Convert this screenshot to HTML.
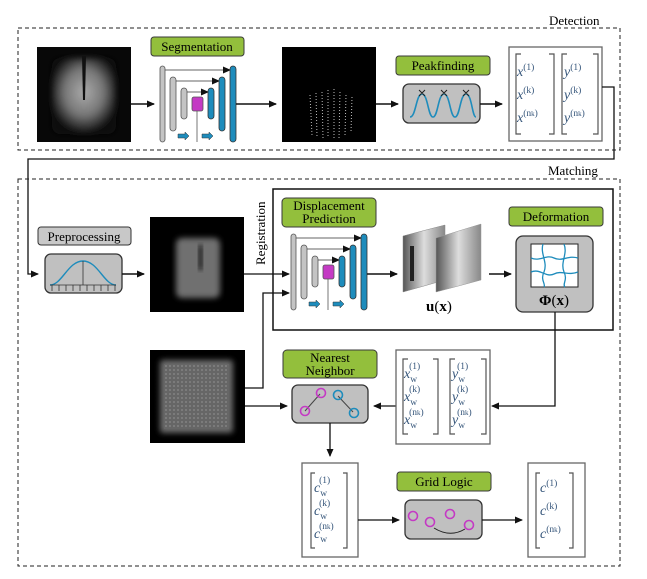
<!DOCTYPE html>
<html><head><meta charset="utf-8"><style>
html,body{margin:0;padding:0;background:#fff;}
svg{display:block;}
text,tspan{font-family:"Liberation Serif","DejaVu Serif",serif;}
.lab{fill:#93bf3c;stroke:#3a3a3a;stroke-width:1}
.gbox{fill:#c0c0c0;stroke:#333;stroke-width:1.3}
.m{font-style:italic;fill:#35557a;font-size:14px}
.s{font-size:9.5px;font-style:normal}
</style></head><body>
<svg width="647" height="579" viewBox="0 0 647 579" xmlns="http://www.w3.org/2000/svg">
<defs>
<marker id="a" markerWidth="8" markerHeight="8" refX="7" refY="4" orient="auto" markerUnits="userSpaceOnUse"><path d="M0,0.5 L8,4 L0,7.5 Z" fill="#111"/></marker>
<radialGradient id="g1" cx="50%" cy="45%" r="55%"><stop offset="0" stop-color="#aaa"/><stop offset="0.55" stop-color="#777"/><stop offset="1" stop-color="#0a0a0a"/></radialGradient>
<radialGradient id="g3" cx="50%" cy="50%" r="50%"><stop offset="0" stop-color="#888"/><stop offset="0.7" stop-color="#666"/><stop offset="1" stop-color="#000"/></radialGradient>
<linearGradient id="pl" x1="0" x2="1"><stop offset="0" stop-color="#555"/><stop offset="0.5" stop-color="#ddd"/><stop offset="1" stop-color="#888"/></linearGradient>
<pattern id="dots" width="4" height="4" patternUnits="userSpaceOnUse"><rect width="4" height="4" fill="#666"/><circle cx="2" cy="2" r="0.9" fill="#8a8a8a"/></pattern>
<filter id="bl"><feGaussianBlur stdDeviation="3"/></filter>
<g id="unet">
 <line x1="3" y1="4" x2="70" y2="4" stroke="#333" stroke-width="0.8" marker-end="url(#a)"/>
 <line x1="13" y1="15" x2="59" y2="15" stroke="#333" stroke-width="0.8" marker-end="url(#a)"/>
 <line x1="24" y1="26" x2="48" y2="26" stroke="#333" stroke-width="0.8" marker-end="url(#a)"/>
 <rect x="0" y="0" width="5" height="76" rx="2.5" fill="#c4c4c4" stroke="#555" stroke-width="0.8"/>
 <rect x="10" y="11" width="6" height="54" rx="3" fill="#c4c4c4" stroke="#555" stroke-width="0.8"/>
 <rect x="21" y="22" width="6" height="31" rx="3" fill="#c4c4c4" stroke="#555" stroke-width="0.8"/>
 <rect x="32" y="31" width="11" height="14" rx="2" fill="#c43ac4" stroke="#555" stroke-width="0.8"/>
 <line x1="37" y1="45" x2="37" y2="76" stroke="#555" stroke-width="0.8"/>
 <rect x="48" y="22" width="6" height="31" rx="3" fill="#1e8cbc" stroke="#333" stroke-width="0.8"/>
 <rect x="59" y="11" width="6" height="54" rx="3" fill="#1e8cbc" stroke="#333" stroke-width="0.8"/>
 <rect x="70" y="0" width="6" height="76" rx="3" fill="#1e8cbc" stroke="#333" stroke-width="0.8"/>
 <path d="M18,68 h7 v-2 l4,4 l-4,4 v-2 h-7z" fill="#1e8cbc" stroke="#333" stroke-width="0.5"/>
 <path d="M42,68 h7 v-2 l4,4 l-4,4 v-2 h-7z" fill="#1e8cbc" stroke="#333" stroke-width="0.5"/>
</g>
</defs>

<!-- Detection -->
<text x="549" y="25" font-size="13">Detection</text>
<rect x="18" y="28" width="602" height="122" fill="none" stroke="#222" stroke-dasharray="4,3"/>
<rect x="37" y="47" width="94" height="95" fill="#080808"/>
<rect x="52" y="58" width="64" height="76" rx="8" fill="url(#g1)" filter="url(#bl)"/>
<path d="M82,56 L86,56 L85,100 L83,100 Z" fill="#111"/>
<line x1="131" y1="104" x2="154" y2="104" stroke="#111" stroke-width="1.5" marker-end="url(#a)"/>
<rect x="151" y="37" width="93" height="19" rx="3" class="lab"/>
<text x="197" y="51" font-size="13" text-anchor="middle">Segmentation</text>
<use href="#unet" x="160" y="66"/>
<line x1="236" y1="104" x2="276" y2="104" stroke="#111" stroke-width="1.5" marker-end="url(#a)"/>
<rect x="282" y="47" width="94" height="95" fill="#000"/>
<g stroke="#bbb" stroke-width="1" stroke-dasharray="1,2" fill="none">
<path d="M310,95 L312,135 M316,93 L317,137 M322,92 L323,138 M328,90 L328,138 M334,89 L334,138 M340,92 L339,138 M346,95 L345,135 M352,97 L351,132"/>
</g>
<line x1="376" y1="104" x2="398" y2="104" stroke="#111" stroke-width="1.5" marker-end="url(#a)"/>
<rect x="396" y="56" width="94" height="19" rx="3" class="lab"/>
<text x="443" y="70" font-size="13" text-anchor="middle">Peakfinding</text>
<rect x="403" y="84" width="77" height="39" rx="6" class="gbox"/>
<path d="M410,117 C416,117 416,94 422,94 C428,94 428,117 433,117 C438,117 438,94 444,94 C450,94 450,117 455,117 C460,117 460,94 466,94 C472,94 472,117 476,117" fill="none" stroke="#1e8cbc" stroke-width="1.6"/>
<g stroke="#222" stroke-width="1"><path d="M419,90 l6,6 M425,90 l-6,6 M441,90 l6,6 M447,90 l-6,6 M463,90 l6,6 M469,90 l-6,6"/></g>
<line x1="480" y1="104" x2="502" y2="104" stroke="#111" stroke-width="1.5" marker-end="url(#a)"/>
<rect x="509" y="47" width="93" height="94" fill="#fff" stroke="#666" stroke-width="1.3"/>
<path d="M521,54 h-5 v80 h5 M549,54 h5 v80 h-5 M567,54 h-5 v80 h5 M593,54 h5 v80 h-5" fill="none" stroke="#555" stroke-width="1.2"/>
<text x="517" y="76" class="m">x<tspan class="s" dy="-6">(1)</tspan></text>
<text x="517" y="99" class="m">x<tspan class="s" dy="-6">(k)</tspan></text>
<text x="517" y="122" class="m">x<tspan class="s" dy="-6">(n<tspan font-size="7">k</tspan>)</tspan></text>
<text x="564" y="76" class="m">y<tspan class="s" dy="-6">(1)</tspan></text>
<text x="564" y="99" class="m">y<tspan class="s" dy="-6">(k)</tspan></text>
<text x="564" y="122" class="m">y<tspan class="s" dy="-6">(n<tspan font-size="7">k</tspan>)</tspan></text>
<polyline points="602,87 614,87 614,159 28,159 28,274 38,274" fill="none" stroke="#111" stroke-width="1.3" marker-end="url(#a)"/>

<!-- Matching -->
<text x="548" y="175" font-size="13">Matching</text>
<rect x="18" y="179" width="602" height="387" fill="none" stroke="#222" stroke-dasharray="4,3"/>
<rect x="38" y="227" width="93" height="18" rx="3" fill="#c8c8c8" stroke="#333"/>
<text x="84" y="241" font-size="13" text-anchor="middle">Preprocessing</text>
<rect x="45" y="254" width="77" height="39" rx="6" class="gbox"/>
<path d="M50,285 C62,285 68,261 83,261 C98,261 104,285 116,285" fill="none" stroke="#1e8cbc" stroke-width="1.4"/>
<g stroke="#333" stroke-width="0.8"><line x1="83" y1="261" x2="83" y2="285"/><line x1="50" y1="285" x2="116" y2="285"/>
<path d="M52,285v6M59,285v6M66,285v6M73,285v6M80,285v6M87,285v6M94,285v6M101,285v6M108,285v6M115,285v6"/></g>
<line x1="122" y1="274" x2="144" y2="274" stroke="#111" stroke-width="1.5" marker-end="url(#a)"/>
<rect x="150" y="217" width="94" height="95" fill="#000"/>
<rect x="176" y="238" width="44" height="60" rx="6" fill="#707070" filter="url(#bl)"/>
<rect x="198" y="245" width="5" height="25" fill="#222" filter="url(#bl)"/>

<rect x="273" y="189" width="340" height="141" fill="none" stroke="#111" stroke-width="1.5"/>
<text transform="translate(265,265) rotate(-90)" font-size="13">Registration</text>
<line x1="244" y1="274" x2="289" y2="274" stroke="#111" stroke-width="1.3" marker-end="url(#a)"/>
<polyline points="245,388 263,388 263,293 289,293" fill="none" stroke="#111" stroke-width="1.3" marker-end="url(#a)"/>
<rect x="282" y="198" width="94" height="29" rx="4" class="lab"/>
<text x="329" y="210" font-size="13" text-anchor="middle">Displacement</text>
<text x="329" y="223" font-size="13" text-anchor="middle">Prediction</text>
<use href="#unet" x="291" y="234"/>
<line x1="367" y1="274" x2="397" y2="274" stroke="#111" stroke-width="1.5" marker-end="url(#a)"/>
<polygon points="403,236 445,225 445,280 403,292" fill="url(#pl)" stroke="#888" stroke-width="0.5"/>
<polygon points="436,238 481,224 481,280 436,292" fill="url(#pl)" stroke="#999" stroke-width="0.5"/>
<rect x="410" y="246" width="4" height="35" fill="#222"/>
<text x="426" y="311" font-size="15"><tspan font-weight="bold">u</tspan>(<tspan font-weight="bold">x</tspan>)</text>
<line x1="489" y1="274" x2="511" y2="274" stroke="#111" stroke-width="1.5" marker-end="url(#a)"/>
<rect x="509" y="207" width="94" height="19" rx="3" class="lab"/>
<text x="556" y="221" font-size="13" text-anchor="middle">Deformation</text>
<rect x="516" y="236" width="77" height="76" rx="7" class="gbox"/>
<rect x="531" y="244" width="47" height="43" fill="#fff" stroke="#222" stroke-width="1"/>
<g fill="none" stroke="#1e8cbc" stroke-width="1.3">
<path d="M531,258 C540,262 546,254 554,258 C562,262 568,255 578,258"/>
<path d="M531,272 C540,268 546,278 554,274 C562,270 568,276 578,272"/>
<path d="M543,244 C540,254 548,262 544,272 C540,280 546,284 544,287"/>
<path d="M564,244 C568,254 560,262 564,272 C568,280 562,284 565,287"/>
</g>
<text x="554" y="305" font-size="15" text-anchor="middle"><tspan font-weight="bold">Φ</tspan>(<tspan font-weight="bold">x</tspan>)</text>
<polyline points="555,312 555,406 492,406" fill="none" stroke="#111" stroke-width="1.3" marker-end="url(#a)"/>

<rect x="150" y="350" width="95" height="93" fill="#000"/>
<rect x="160" y="360" width="73" height="73" rx="3" fill="url(#dots)" filter="url(#bl)"/>
<rect x="164" y="364" width="65" height="65" fill="url(#dots)"/>
<line x1="245" y1="406" x2="287" y2="406" stroke="#111" stroke-width="1.3" marker-end="url(#a)"/>
<rect x="283" y="350" width="94" height="28" rx="4" class="lab"/>
<text x="330" y="362" font-size="13" text-anchor="middle">Nearest</text>
<text x="330" y="375" font-size="13" text-anchor="middle">Neighbor</text>
<rect x="292" y="385" width="76" height="38" rx="6" class="gbox"/>
<line x1="305" y1="411" x2="320" y2="394" stroke="#444"/>
<line x1="338" y1="396" x2="353" y2="412" stroke="#444"/>
<g fill="none" stroke-width="1.6"><circle cx="305" cy="411" r="4.5" stroke="#c43ac4"/><circle cx="321" cy="393" r="4.5" stroke="#c43ac4"/><circle cx="338" cy="395" r="4.5" stroke="#1e8cbc"/><circle cx="354" cy="413" r="4.5" stroke="#1e8cbc"/></g>
<line x1="396" y1="406" x2="374" y2="406" stroke="#111" stroke-width="1.3" marker-end="url(#a)"/>
<rect x="396" y="350" width="94" height="94" fill="#fff" stroke="#666" stroke-width="1.3"/>
<path d="M408,359 h-5 v75 h5 M433,359 h5 v75 h-5 M455,359 h-5 v75 h5 M481,359 h5 v75 h-5" fill="none" stroke="#555" stroke-width="1.2"/>
<text x="404" y="378" class="m">x<tspan class="s" dy="4">w</tspan><tspan class="s" dx="-8" dy="-13">(1)</tspan></text>
<text x="404" y="401" class="m">x<tspan class="s" dy="4">w</tspan><tspan class="s" dx="-8" dy="-13">(k)</tspan></text>
<text x="404" y="424" class="m">x<tspan class="s" dy="4">w</tspan><tspan class="s" dx="-8" dy="-13">(n<tspan font-size="7">k</tspan>)</tspan></text>
<text x="452" y="378" class="m">y<tspan class="s" dy="4">w</tspan><tspan class="s" dx="-8" dy="-13">(1)</tspan></text>
<text x="452" y="401" class="m">y<tspan class="s" dy="4">w</tspan><tspan class="s" dx="-8" dy="-13">(k)</tspan></text>
<text x="452" y="424" class="m">y<tspan class="s" dy="4">w</tspan><tspan class="s" dx="-8" dy="-13">(n<tspan font-size="7">k</tspan>)</tspan></text>

<line x1="330" y1="423" x2="330" y2="456" stroke="#111" stroke-width="1.3" marker-end="url(#a)"/>
<rect x="302" y="463" width="56" height="94" fill="#fff" stroke="#666" stroke-width="1.3"/>
<path d="M315,473 h-4 v75 h4 M343,473 h4 v75 h-4" fill="none" stroke="#555" stroke-width="1.2"/>
<text x="314" y="492" class="m">c<tspan class="s" dy="4">w</tspan><tspan class="s" dx="-8" dy="-13">(1)</tspan></text>
<text x="314" y="515" class="m">c<tspan class="s" dy="4">w</tspan><tspan class="s" dx="-8" dy="-13">(k)</tspan></text>
<text x="314" y="538" class="m">c<tspan class="s" dy="4">w</tspan><tspan class="s" dx="-8" dy="-13">(n<tspan font-size="7">k</tspan>)</tspan></text>
<line x1="358" y1="520" x2="399" y2="520" stroke="#111" stroke-width="1.3" marker-end="url(#a)"/>
<rect x="397" y="472" width="94" height="19" rx="3" class="lab"/>
<text x="444" y="486" font-size="13" text-anchor="middle">Grid Logic</text>
<rect x="405" y="500" width="77" height="39" rx="6" class="gbox"/>
<g fill="none" stroke="#c43ac4" stroke-width="1.6"><circle cx="413" cy="516" r="4.5"/><circle cx="430" cy="522" r="4.5"/><circle cx="450" cy="514" r="4.5"/><circle cx="469" cy="525" r="4.5"/></g>
<path d="M434,528 Q450,538 465,529" fill="none" stroke="#222" stroke-width="1"/>
<line x1="482" y1="520" x2="522" y2="520" stroke="#111" stroke-width="1.3" marker-end="url(#a)"/>
<rect x="528" y="463" width="57" height="94" fill="#fff" stroke="#666" stroke-width="1.3"/>
<path d="M540,473 h-4 v75 h4 M569,473 h4 v75 h-4" fill="none" stroke="#555" stroke-width="1.2"/>
<text x="540" y="492" class="m">c<tspan class="s" dy="-6">(1)</tspan></text>
<text x="540" y="515" class="m">c<tspan class="s" dy="-6">(k)</tspan></text>
<text x="540" y="538" class="m">c<tspan class="s" dy="-6">(n<tspan font-size="7">k</tspan>)</tspan></text>
</svg>
</body></html>
